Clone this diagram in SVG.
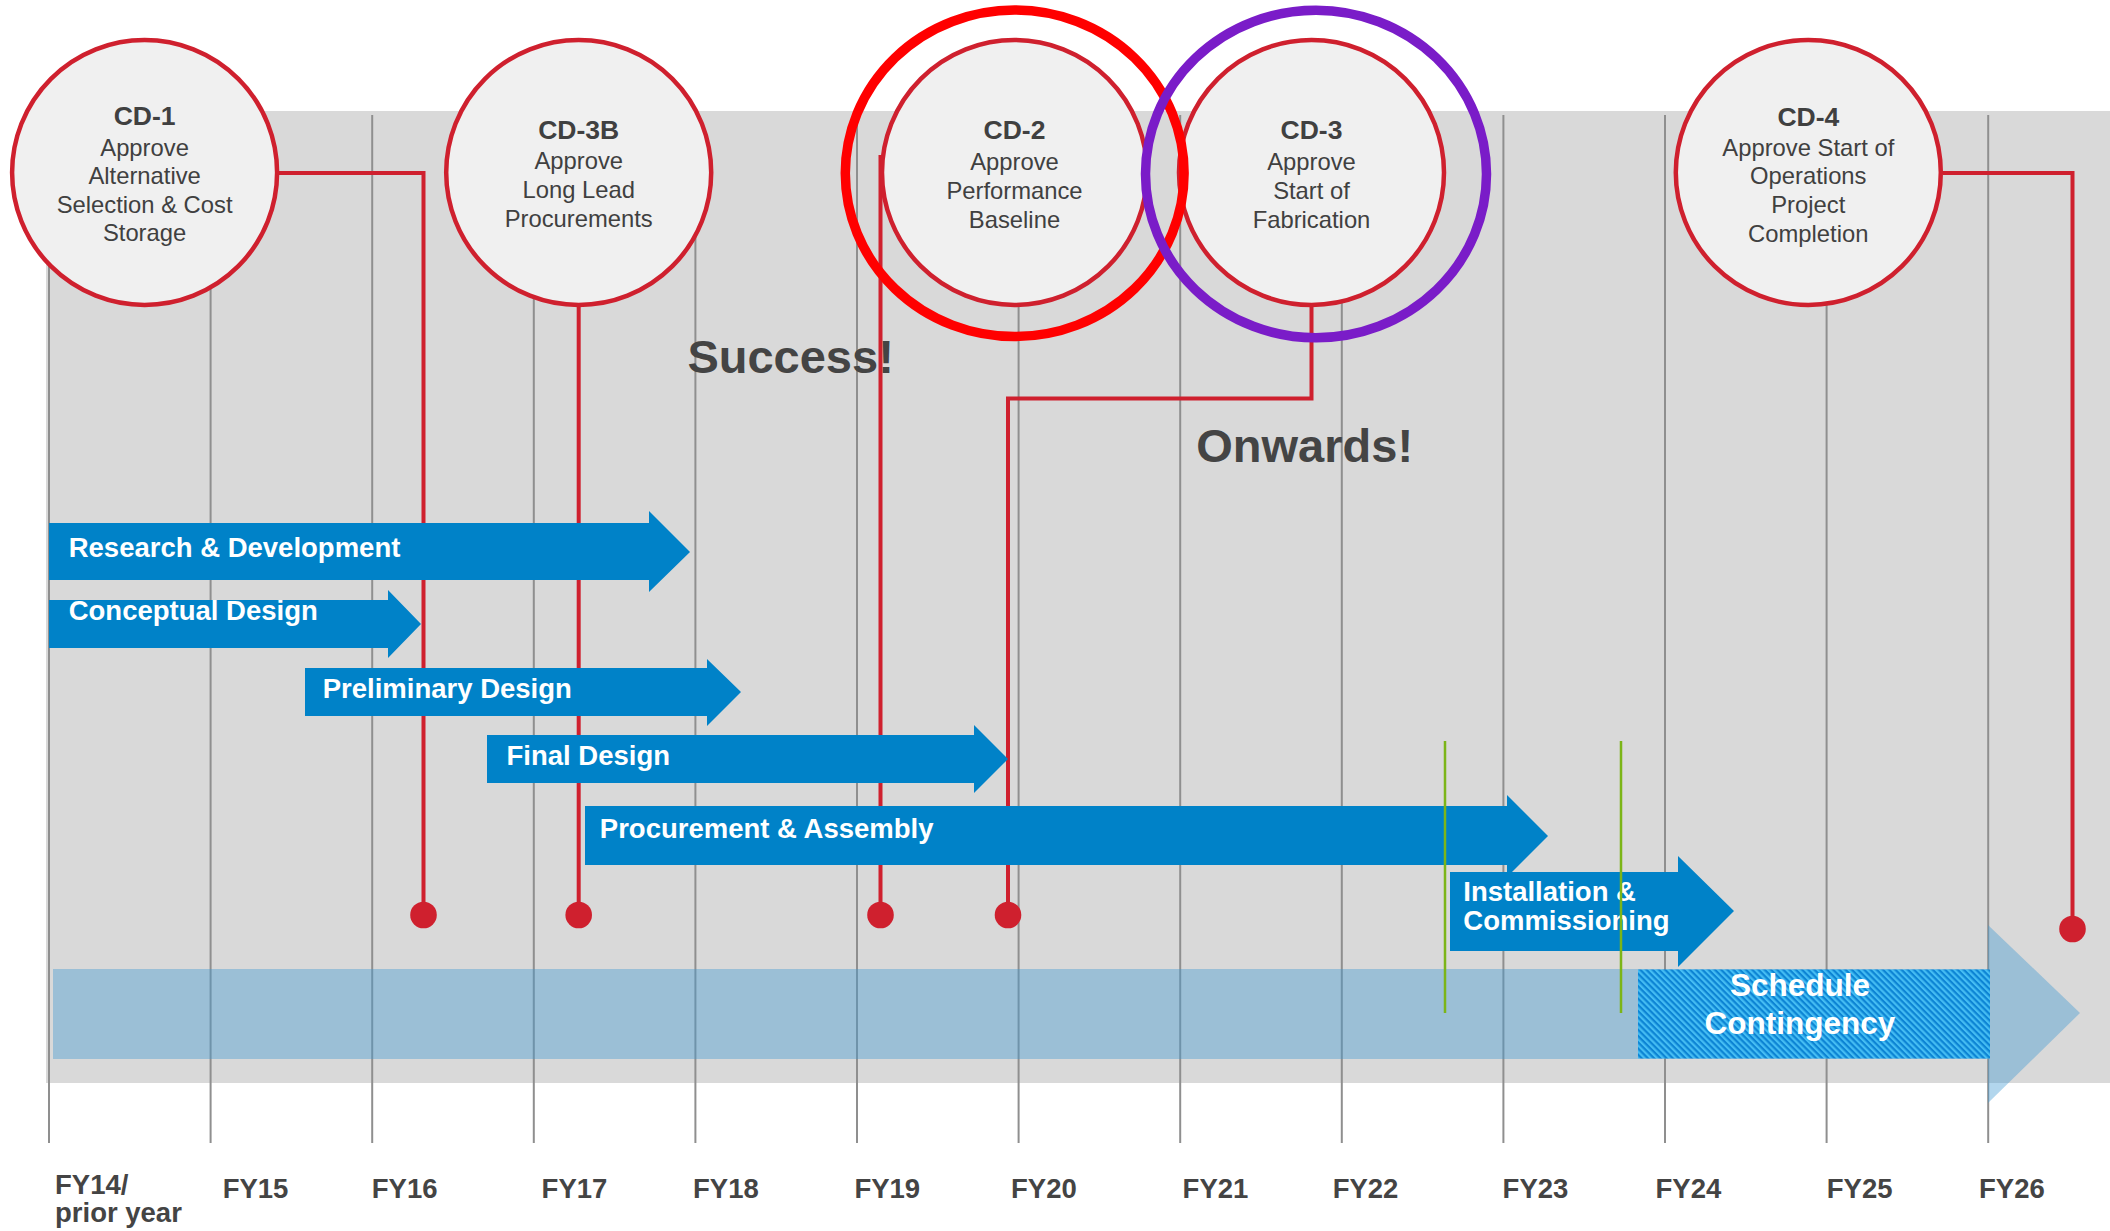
<svg xmlns="http://www.w3.org/2000/svg" width="2110" height="1231" viewBox="0 0 2110 1231">
<defs>
<style>
.grid{stroke:#8f8f8f;stroke-width:2;fill:none}
.conn{stroke:#cf202e;stroke-width:4;fill:none}
.dot{fill:#cf202e}
.bar{fill:#0082c8}
.barlbl{font-family:"Liberation Sans",Arial,sans-serif;font-weight:bold;font-size:27.5px;fill:#ffffff}
.ms{fill:#f0f0f0;stroke:#cf202e;stroke-width:4.5}
.mt{font-family:"Liberation Sans",Arial,sans-serif;font-size:23.8px;fill:#404040;text-anchor:middle}
.mh{font-family:"Liberation Sans",Arial,sans-serif;font-size:26.5px;font-weight:bold;fill:#404040;text-anchor:middle}
.fy{font-family:"Liberation Sans",Arial,sans-serif;font-size:27.5px;font-weight:bold;fill:#444444}
.big{font-family:"Liberation Sans",Arial,sans-serif;font-size:47px;font-weight:bold;fill:#444444}
.green{stroke:#7cb518;stroke-width:2.5}
</style>
<pattern id="hatch" patternUnits="userSpaceOnUse" width="4.4" height="4.4" patternTransform="rotate(-45)">
<rect x="0" y="0" width="4.4" height="4.4" fill="#0c84d4"/>
<rect x="0" y="0" width="2.2" height="4.4" fill="#45bdf3"/>
</pattern>
</defs>
<rect x="0" y="0" width="2110" height="1231" fill="#ffffff"/>
<rect id="background" x="46" y="111" width="2064" height="972" fill="#d9d9d9"/>
<g id="grid">
<line class="grid" x1="49" y1="115" x2="49" y2="1143"/>
<line class="grid" x1="210.6" y1="115" x2="210.6" y2="1143"/>
<line class="grid" x1="372.2" y1="115" x2="372.2" y2="1143"/>
<line class="grid" x1="533.8" y1="115" x2="533.8" y2="1143"/>
<line class="grid" x1="695.4" y1="115" x2="695.4" y2="1143"/>
<line class="grid" x1="857" y1="115" x2="857" y2="1143"/>
<line class="grid" x1="1018.6" y1="115" x2="1018.6" y2="1143"/>
<line class="grid" x1="1180.2" y1="115" x2="1180.2" y2="1143"/>
<line class="grid" x1="1341.8" y1="115" x2="1341.8" y2="1143"/>
<line class="grid" x1="1503.4" y1="115" x2="1503.4" y2="1143"/>
<line class="grid" x1="1665" y1="115" x2="1665" y2="1143"/>
<line class="grid" x1="1826.6" y1="115" x2="1826.6" y2="1143"/>
<line class="grid" x1="1988.2" y1="115" x2="1988.2" y2="1143"/>
</g>
<g id="connectors">
<path class="conn" d="M277.5,173 H423.5 V915"/>
<circle class="dot" cx="423.5" cy="915" r="13.3"/>
<path class="conn" d="M578.7,305 V915"/>
<circle class="dot" cx="578.7" cy="915" r="13.3"/>
<path class="conn" d="M880.5,155 V915"/>
<circle class="dot" cx="880.5" cy="915" r="13.3"/>
<path class="conn" d="M1311.5,305 V398.5 H1008 V915"/>
<circle class="dot" cx="1008" cy="915" r="13.3"/>
<path class="conn" d="M1943,173 H2072.5 V929"/>
<circle class="dot" cx="2072.5" cy="929" r="13.3"/>
</g>
<g id="rd">
<polygon class="bar" points="49,523 649,523 649,511 690,552 649,592 649,580 49,580"/>
<text class="barlbl" x="68.7" y="557.3">Research &amp; Development</text>
</g>
<g id="conceptual">
<polygon class="bar" points="49,600 388,600 388,590 421,624 388,658 388,648 49,648"/>
<text class="barlbl" x="68.7" y="619.5">Conceptual Design</text>
</g>
<g id="preliminary">
<polygon class="bar" points="305,668 707,668 707,659 741,692 707,726 707,716 305,716"/>
<text class="barlbl" x="322.7" y="698.3">Preliminary Design</text>
</g>
<g id="final">
<polygon class="bar" points="487,735 974,735 974,725 1008,759 974,793 974,783 487,783"/>
<text class="barlbl" x="506.5" y="765">Final Design</text>
</g>
<g id="procurement">
<polygon class="bar" points="585,806 1507,806 1507,795 1548,836 1507,877 1507,865 585,865"/>
<text class="barlbl" x="599.8" y="837.7">Procurement &amp; Assembly</text>
</g>
<g id="installation">
<polygon class="bar" points="1450,872 1678,872 1678,856 1734,911 1678,967 1678,951 1450,951"/>
<text class="barlbl" x="1463.3" y="901" font-size="26.5">Installation &amp;</text>
<text class="barlbl" x="1463.3" y="930" font-size="26.5">Commissioning</text>
</g>
<g id="timeline">
<polygon points="53,969 1988,969 1988,925 2080,1013 1988,1103 1988,1059 53,1059" fill="#3e98d1" fill-opacity="0.4"/>
</g>
<g id="contingency">
<rect x="1638" y="969.5" width="352" height="89" fill="url(#hatch)"/>
<text x="1800" y="996" font-family="'Liberation Sans',Arial,sans-serif" font-size="31.5" font-weight="bold" fill="#ffffff" text-anchor="middle">Schedule</text>
<text x="1800" y="1034" font-family="'Liberation Sans',Arial,sans-serif" font-size="31.5" font-weight="bold" fill="#ffffff" text-anchor="middle">Contingency</text>
</g>
<g id="markers">
<line class="green" x1="1445" y1="741" x2="1445" y2="1013"/>
<line class="green" x1="1621" y1="741" x2="1621" y2="1013"/>
</g>
<g id="cd1">
<circle class="ms" cx="144.6" cy="172.5" r="132.5"/>
<text class="mh" x="144.6" y="125">CD-1</text>
<text class="mt" x="144.6" y="156">Approve</text>
<text class="mt" x="144.6" y="184.3">Alternative</text>
<text class="mt" x="144.6" y="212.7">Selection &amp; Cost</text>
<text class="mt" x="144.6" y="241">Storage</text>
</g>
<g id="cd3b">
<circle class="ms" cx="578.7" cy="172.5" r="132.5"/>
<text class="mh" x="578.7" y="139.3">CD-3B</text>
<text class="mt" x="578.7" y="169.3">Approve</text>
<text class="mt" x="578.7" y="198.3">Long Lead</text>
<text class="mt" x="578.7" y="227.3">Procurements</text>
</g>
<g id="cd2">
<circle class="ms" cx="1014.5" cy="172.5" r="132.5"/>
<text class="mh" x="1014.5" y="139.3">CD-2</text>
<text class="mt" x="1014.5" y="170">Approve</text>
<text class="mt" x="1014.5" y="199">Performance</text>
<text class="mt" x="1014.5" y="227.7">Baseline</text>
</g>
<g id="cd3">
<circle class="ms" cx="1311.5" cy="172.5" r="132.5"/>
<text class="mh" x="1311.5" y="139.3">CD-3</text>
<text class="mt" x="1311.5" y="170">Approve</text>
<text class="mt" x="1311.5" y="199">Start of</text>
<text class="mt" x="1311.5" y="227.7">Fabrication</text>
</g>
<g id="cd4">
<circle class="ms" cx="1808.3" cy="172.5" r="132.5"/>
<text class="mh" x="1808.3" y="125.7">CD-4</text>
<text class="mt" x="1808.3" y="156">Approve Start of</text>
<text class="mt" x="1808.3" y="184">Operations</text>
<text class="mt" x="1808.3" y="212.7">Project</text>
<text class="mt" x="1808.3" y="241.7">Completion</text>
</g>
<g id="highlights">
<ellipse cx="1014.7" cy="173.3" rx="169.4" ry="163.3" fill="none" stroke="#ff0000" stroke-width="9.5"/>
<ellipse cx="1316" cy="174" rx="170.5" ry="163.8" fill="none" stroke="#7a1cc8" stroke-width="9.5"/>
</g>
<g id="callouts">
<text class="big" x="687.4" y="373.3">Success!</text>
<text class="big" x="1196.3" y="461.7">Onwards!</text>
</g>
<g id="years">
<text class="fy" x="55" y="1194">FY14/</text>
<text class="fy" x="55" y="1222">prior year</text>
<text class="fy" x="222.7" y="1197.5">FY15</text>
<text class="fy" x="371.8" y="1197.5">FY16</text>
<text class="fy" x="541.6" y="1197.5">FY17</text>
<text class="fy" x="693" y="1197.5">FY18</text>
<text class="fy" x="854.4" y="1197.5">FY19</text>
<text class="fy" x="1011" y="1197.5">FY20</text>
<text class="fy" x="1182.6" y="1197.5">FY21</text>
<text class="fy" x="1332.7" y="1197.5">FY22</text>
<text class="fy" x="1502.6" y="1197.5">FY23</text>
<text class="fy" x="1655.5" y="1197.5">FY24</text>
<text class="fy" x="1826.8" y="1197.5">FY25</text>
<text class="fy" x="1979" y="1197.5">FY26</text>
</g>
</svg>
